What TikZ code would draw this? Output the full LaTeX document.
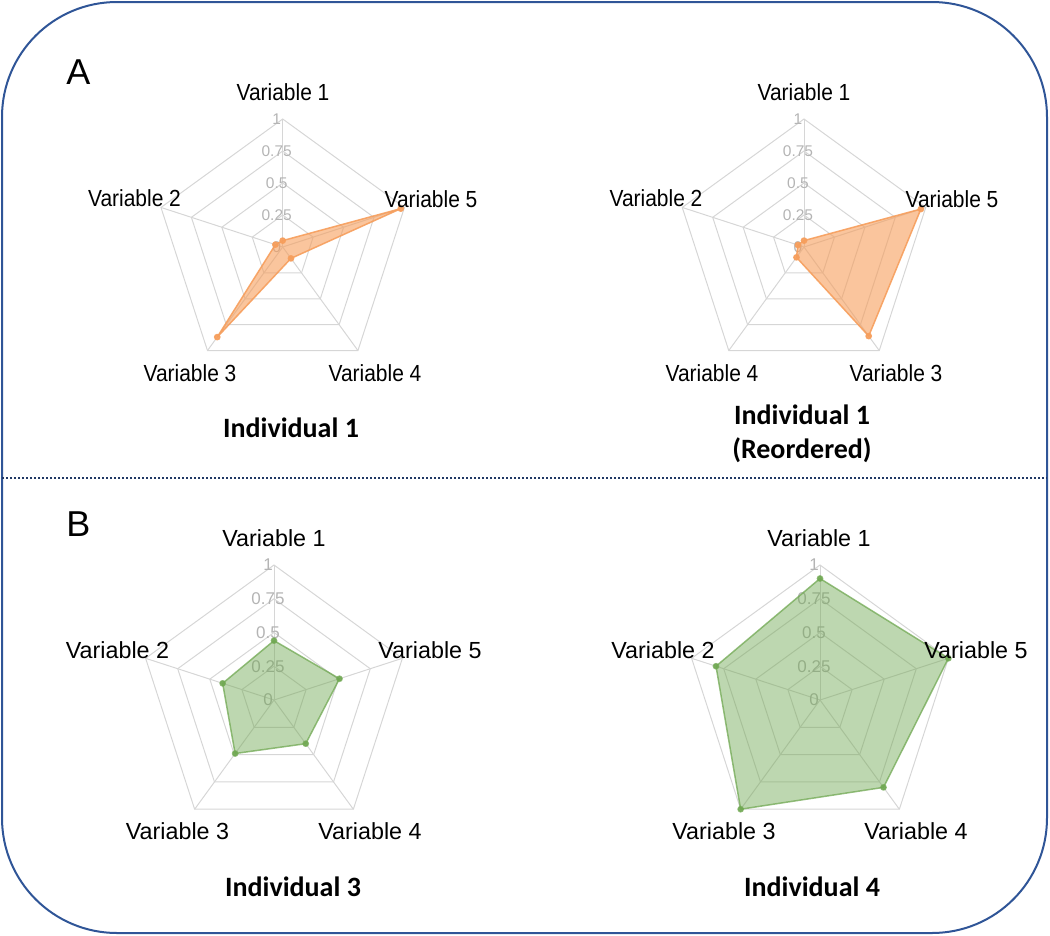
\documentclass[tikz,border=0pt]{standalone}
\usepackage{fontspec}
\setmainfont{Liberation Sans}
\newfontfamily\calib{Carlito}
\usepackage{graphicx}
\definecolor{framec}{RGB}{47,85,151}
\definecolor{sepc}{RGB}{32,56,100}
\definecolor{gridc}{RGB}{214,214,214}
\definecolor{tickc}{RGB}{180,180,180}
\definecolor{orangec}{RGB}{246,158,92}
\definecolor{greenc}{RGB}{112,168,82}
\newcommand\topsq[1]{\scalebox{0.9}[1]{#1}}
\tikzset{
  gridline/.style={draw=gridc, line width=1pt, line join=miter},
  tick/.style={text=tickc, inner sep=0pt, anchor=center},
  lab/.style={inner sep=0pt, anchor=center, font=\fontsize{23.3}{28}\selectfont},
  ttl/.style={inner sep=0pt, anchor=center, align=center, font=\calib\bfseries\fontsize{28}{33.5}\selectfont},
  panel/.style={inner sep=0pt, anchor=center, font=\fontsize{36}{40}\selectfont},
  orangefill/.style={draw=orangec, draw opacity=0.9, fill=orangec, fill opacity=0.6, line width=1.5pt, line join=round},
  greenfill/.style={draw=greenc, draw opacity=0.75, fill=greenc, fill opacity=0.46, line width=1.5pt, line join=round},
}
% y axis points down, so angles are negated: -90 up, -162 upper left,
% -234 lower left, -306 lower right, -18 upper right
\newcommand\radargrid[4]{%
  \begin{scope}[shift={(#1,#2)}]
    \foreach \k in {0.25,0.5,0.75,1}{%
      \pgfmathsetmacro\rrg{\k*#3}
      \draw[gridline] (-90:\rrg) -- (-162:\rrg) -- (-234:\rrg) -- (-306:\rrg) -- (-18:\rrg) -- cycle;}
    \foreach \a in {-90,-162,-234,-306,-18}{\draw[gridline] (0,0) -- (\a:#3);}
    \foreach \k/\t in {0/0,0.25/0.25,0.5/0.5,0.75/0.75,1/1}{%
      \pgfmathsetmacro\rrg{\k*#3}
      \node[tick, font=#4] at (-6,-\rrg) {\t};}
  \end{scope}}
\newcommand\radardata[9]{%
  \begin{scope}[shift={(#2,#3)}]
    \pgfmathsetmacro\rvA{#5*#4}\pgfmathsetmacro\rvB{#6*#4}\pgfmathsetmacro\rvC{#7*#4}%
    \pgfmathsetmacro\rvD{#8*#4}\pgfmathsetmacro\rvE{#9*#4}%
    \filldraw[#1] (-90:\rvA) -- (-162:\rvB) -- (-234:\rvC) -- (-306:\rvD) -- (-18:\rvE) -- cycle;
    \foreach \a/\r in {-90/\rvA,-162/\rvB,-234/\rvC,-306/\rvD,-18/\rvE}{\fill[#1, fill opacity=0.9] (\a:\r) circle (2.6);}
  \end{scope}}
\begin{document}
\begin{tikzpicture}[x=1pt,y=-1pt]
\useasboundingbox (0,0) rectangle (1050,935);
% frame
\draw[framec, line width=2pt, rounded corners=115pt] (2,2) rectangle (1047,933);
\coordinate (sepL) at (2,478);
\coordinate (sepR) at (1047,478);
\draw[sepc, line width=1.6pt, dash pattern=on 1.6pt off 2.4pt] (sepL) -- (sepR);
\node[panel] (pA) at (78.5,72.5) {A};
\node[panel] (pB) at (78.5,524) {B};

% ---------- chart 1 ----------
\radargrid{282.7}{247}{128}{\fontsize{15.5}{17}\selectfont}
\radardata{orangefill}{282.7}{247}{128}{0.05}{0.06}{0.87}{0.11}{0.97}
\node[lab] (c1v1) at (283,92) {\topsq{Variable 1}};
\node[lab] (c1v2) at (134.5,198) {\topsq{Variable 2}};
\node[lab] (c1v5) at (431,199) {\topsq{Variable 5}};
\node[lab] (c1v3) at (190,373) {\topsq{Variable 3}};
\node[lab] (c1v4) at (375,373) {\topsq{Variable 4}};
\node[ttl] (t1) at (291,427.5) {Individual 1};

% ---------- chart 2 ----------
\radargrid{804}{247}{128}{\fontsize{15.5}{17}\selectfont}
\radardata{orangefill}{804}{247}{128}{0.05}{0.05}{0.10}{0.86}{0.96}
\node[lab] (c2v1) at (804,92) {\topsq{Variable 1}};
\node[lab] (c2v2) at (656,198) {\topsq{Variable 2}};
\node[lab] (c2v5) at (952,199) {\topsq{Variable 5}};
\node[lab] (c2v4) at (712,373) {\topsq{Variable 4}};
\node[lab] (c2v3) at (896,373) {\topsq{Variable 3}};
\node[ttl] (t2) at (802,434) {Individual 1\\(Reordered)};

% ---------- chart 3 ----------
\radargrid{274}{700}{135}{\fontsize{17}{19}\selectfont}
\radardata{greenfill}{274}{700}{135}{0.44}{0.40}{0.49}{0.40}{0.51}
\node[lab] (c3v1) at (274,538) {Variable 1};
\node[lab] (c3v2) at (117.5,650) {Variable 2};
\node[lab] (c3v5) at (430,650) {Variable 5};
\node[lab] (c3v3) at (177.5,831) {Variable 3};
\node[lab] (c3v4) at (370,831) {Variable 4};
\node[ttl] (t3) at (293,887) {Individual 3};

% ---------- chart 4 ----------
\radargrid{820}{700}{135}{\fontsize{17}{19}\selectfont}
\radardata{greenfill}{820}{700}{135}{0.90}{0.81}{1.0}{0.80}{1.0}
\node[lab] (c4v1) at (819,538) {Variable 1};
\node[lab] (c4v2) at (663,650) {Variable 2};
\node[lab] (c4v5) at (976,650) {Variable 5};
\node[lab] (c4v3) at (724,831) {Variable 3};
\node[lab] (c4v4) at (916,831) {Variable 4};
\node[ttl] (t4) at (812,887) {Individual 4};
\end{tikzpicture}
\end{document}
